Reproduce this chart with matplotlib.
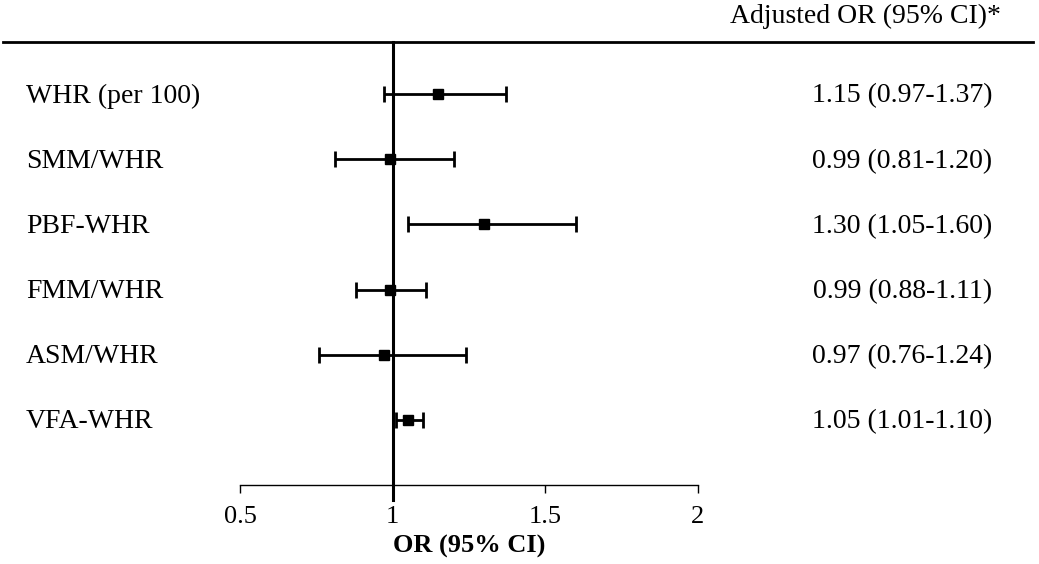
import matplotlib.pyplot as plt
import matplotlib.transforms as mtransforms
from matplotlib.lines import Line2D

plt.rcParams['font.family'] = ['Liberation Serif', 'DejaVu Serif']

# Forest plot data
labels = ['WHR (per 100)', 'SMM/WHR', 'PBF-WHR', 'FMM/WHR', 'ASM/WHR', 'VFA-WHR']
odds = [1.15, 0.99, 1.30, 0.99, 0.97, 1.05]
lower = [0.97, 0.81, 1.05, 0.88, 0.76, 1.01]
upper = [1.37, 1.20, 1.60, 1.11, 1.24, 1.10]
ticks = [0.5, 1, 1.5, 2]
tick_labels = ['0.5', '1', '1.5', '2']

W, H = 1039, 564
fig = plt.figure(figsize=(W / 100, H / 100), dpi=100)
# axes: x from 0.5 (px 240) to 2 (px 698), y from header line (42) to axis (485)
ax = fig.add_axes([240 / W, 1 - 485 / H, 458 / W, 443 / H])

rows = list(range(len(labels)))
err_lo = [o - l for o, l in zip(odds, lower)]
err_hi = [u - o for o, u in zip(odds, upper)]
ax.errorbar(odds, rows, xerr=[err_lo, err_hi], fmt='s', color='black',
            ms=7, elinewidth=2, capsize=6, capthick=2, zorder=3)

ax.set_xlim(0.5, 2)
ax.set_ylim(6.0, -0.8)
ax.plot([1, 1], [-0.8, 6.23], color='black', lw=2.2, clip_on=False, zorder=2)

for s in ['top', 'right', 'left']:
    ax.spines[s].set_visible(False)
ax.spines['bottom'].set_linewidth(1)
ax.set_yticks([])
ax.set_xticks(ticks)
ax.set_xticklabels(tick_labels, fontsize=19)
ax.tick_params(axis='x', direction='out', length=6, width=1, pad=9)
ax.set_xlabel('OR (95% CI)', fontsize=19, fontweight='bold', labelpad=5)

# row labels and OR text, x in figure fraction, y in data
trans = mtransforms.blended_transform_factory(fig.transFigure, ax.transData)
for i, lab in enumerate(labels):
    ax.text(26 / W, i + 0.03, lab, transform=trans, ha='left', va='center',
            fontsize=20, clip_on=False)
    txt = f'{odds[i]:.2f} ({lower[i]:.2f}-{upper[i]:.2f})'
    ax.text(992 / W, i + 0.03, txt, transform=trans, ha='right', va='center',
            fontsize=20, clip_on=False)

fig.text(1001 / W, 1 - 16 / H, 'Adjusted OR (95% CI)*', ha='right', va='center',
         fontsize=20)
fig.add_artist(Line2D([3 / W, 1033 / W], [1 - 42 / H, 1 - 42 / H], color='black',
                      lw=2, transform=fig.transFigure))

fig.savefig('out.png', dpi=100)
